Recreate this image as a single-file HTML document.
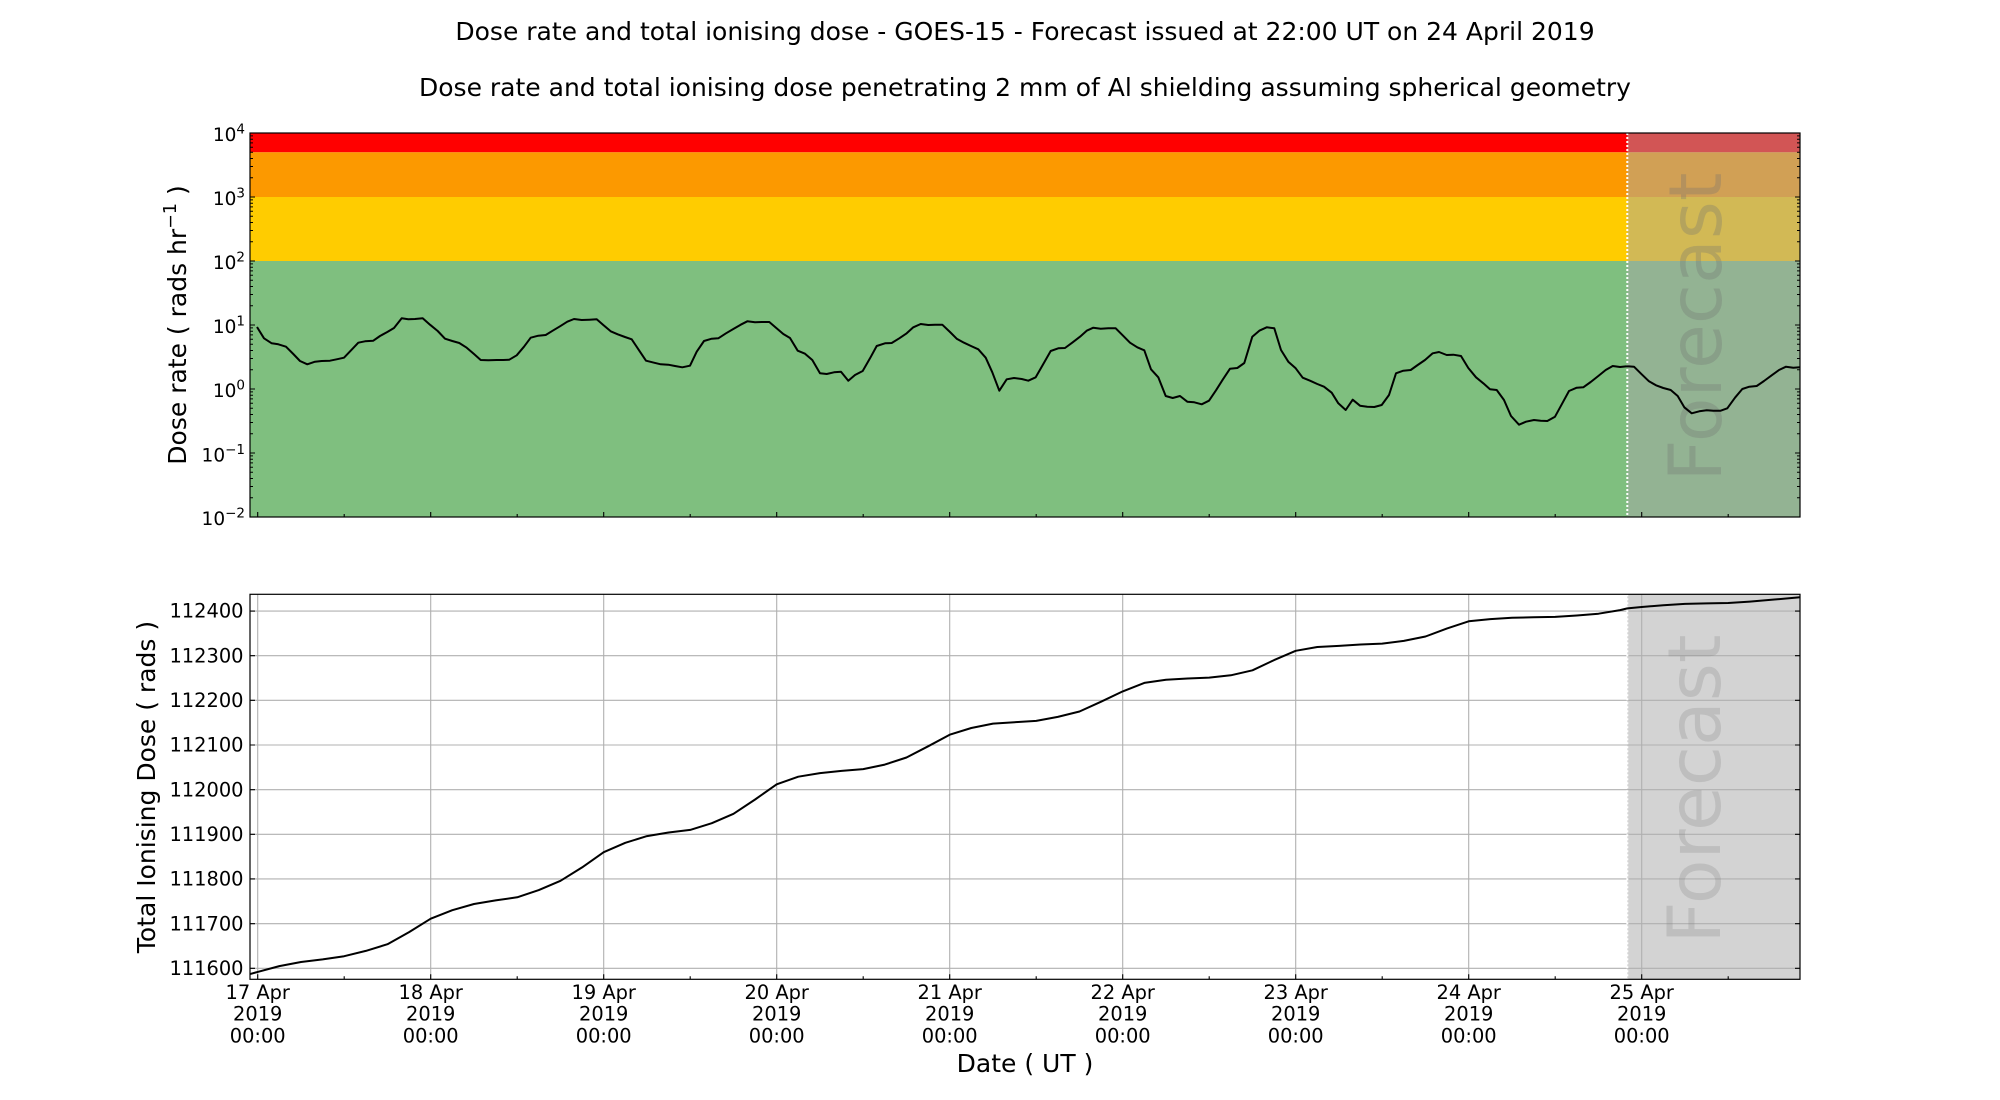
<!DOCTYPE html>
<html>
<head>
<meta charset="utf-8">
<style>
html,body{margin:0;padding:0;background:#fff;}
svg{display:block;}
text{font-family:"DejaVu Sans","Liberation Sans",sans-serif;}
</style>
</head>
<body>
<svg width="2000" height="1100" viewBox="0 0 2000 1100" xmlns="http://www.w3.org/2000/svg">
<defs>
<path id="mt" d="M250 -19.27h3M250 -30.53h3M250 -38.53h3M250 -44.74h3M250 -49.8h3M250 -54.09h3M250 -57.8h3M250 -61.07h3M1800 -19.27h-3M1800 -30.53h-3M1800 -38.53h-3M1800 -44.74h-3M1800 -49.8h-3M1800 -54.09h-3M1800 -57.8h-3M1800 -61.07h-3" stroke="#000" stroke-width="1" fill="none"/>
</defs>
<rect x="0" y="0" width="2000" height="1100" fill="#fff"/>

<!-- Titles -->
<text x="1025" y="40" font-size="25" text-anchor="middle" fill="#000">Dose rate and total ionising dose - GOES-15 - Forecast issued at 22:00 UT on 24 April 2019</text>
<text x="1025" y="96" font-size="25" text-anchor="middle" fill="#000">Dose rate and total ionising dose penetrating 2 mm of Al shielding assuming spherical geometry</text>

<!-- ===== TOP PANEL ===== -->
<rect x="250" y="133" width="1550" height="19.3" fill="#ff0000"/>
<rect x="250" y="152.3" width="1550" height="44.7" fill="#fc9900"/>
<rect x="250" y="197" width="1550" height="64" fill="#ffcc00"/>
<rect x="250" y="261" width="1550" height="256" fill="#7fbf7f"/>
<rect x="1627.3" y="133" width="172.7" height="384" fill="rgb(167,167,167)" fill-opacity="0.51"/>
<text transform="translate(1721,327) rotate(-90)" font-size="73" text-anchor="middle" fill="#6f6f6f" fill-opacity="0.3">Forecast</text>
<line x1="1627.3" y1="133" x2="1627.3" y2="517" stroke="#fff" stroke-width="2" stroke-dasharray="2,2"/>
<polyline fill="none" stroke="#000" stroke-width="2" stroke-linejoin="round" points="257,327 264,338.3 271.7,343.3 278.3,344.3 286,346.7 293.3,354 300,361 307.3,364.3 315,361.7 321.7,361 330,360.7 336.7,359.3 344,357.7 350.7,350.7 358.3,342.7 365,341.3 373.3,340.7 380,336 387.3,332 394,328 401.7,318.3 408.3,319.3 415,319 422.7,318.3 430,324.7 437.7,331 445,338.7 452.3,341 459.3,343 466.7,347.7 474,354 480.7,360 488.3,360.3 496.7,360 503.3,360 509.3,359.7 516.7,355.3 524,346.7 530.7,337.7 538.3,335.7 545.7,335 552.7,330.7 560,326.3 567.3,321.7 574,319 581.7,320 589.3,319.7 596.7,319.3 603.3,325 610.7,331.3 617.7,334.3 625,337 631.7,339.3 639.3,350.7 646,360.7 654,362.7 660.7,364.3 668.3,364.7 675,366 682.3,367.3 690,365.7 696.7,351.7 704,341 711.7,338.7 718.3,338.3 726,333.3 733.3,329 740.7,324.7 747.3,321.3 755,322.3 761.7,322 769.3,322 776,327.7 783.3,334 790,338 797.7,350.7 805,353.7 812.3,360 820,373.3 826.7,374 834,372.3 841,371.7 848.3,380.7 855,375 862.7,371 870,358.3 876.7,346 885,343.3 891.7,343 899.3,338.3 906.7,333.3 913.3,327.3 920.7,324 928.3,325 935,324.7 942.3,324.7 950,332 956.7,338.7 964,342.7 971,346 978.3,349.3 985.7,357.7 992.3,372.3 999.3,390.7 1006.7,379.3 1014,378 1021.7,379 1028.3,380.7 1035.7,377.3 1043.3,364 1050.7,351 1058.3,348.3 1065,348 1072.7,342.3 1080,336.7 1086.7,330.7 1093.3,327.7 1100.7,328.7 1108.3,328.3 1115.7,328.3 1122.7,335.3 1130,342.7 1137.3,347.3 1144.3,350.3 1151,369.3 1158.3,377.3 1165.7,396 1172.7,398 1180,396 1187.3,401.7 1194.3,402.3 1201.7,404.3 1209,400.7 1216,390.3 1222.7,379.7 1230,368.7 1237.3,368 1244.3,363 1252.3,336.7 1259.3,330.7 1266.7,327.3 1274.3,328.3 1281,350 1288.3,361.7 1295.7,368.3 1302.7,377.7 1310,380.7 1317.3,384 1324,386.7 1331.7,392.7 1338.3,403.3 1345.7,410 1352.7,399.7 1360,405.7 1367.3,406.7 1374.3,407 1381.7,405 1389,395 1396,373.3 1403.3,370.7 1410.7,370 1417.7,365 1425,360 1432.7,353.3 1439,352 1446.7,355 1453.3,354.7 1461,356 1468.3,368 1476,377.3 1483.3,383.3 1490,389.3 1496.7,390 1504,400 1511,416 1519,424.7 1526,421.7 1534,420 1540.7,420.7 1547.3,421 1555,416.7 1562.3,403.3 1569,391 1576.7,387.7 1583.3,387.3 1590.7,382 1598.3,376 1605.7,370 1612.7,366 1620,367 1627.3,366.3 1634,366.7 1641.7,374.3 1649,381.3 1656,385.3 1663.3,388 1670.7,390 1677.7,396 1684.3,407.3 1691.7,413.3 1699.3,411.3 1706.7,410.3 1713.3,410.7 1720.7,410.7 1727.3,408.3 1735,397.7 1742.3,389 1749.3,386.7 1756.7,386 1764,381 1771.7,375.3 1779,370 1786,366.7 1793.3,367.7 1800,367.3"/>
<!-- top spines -->
<rect x="250" y="133" width="1550" height="384" fill="none" stroke="#000" stroke-width="1.2"/>
<!-- top y major ticks -->
<path d="M250 133h5M250 197h5M250 261h5M250 325h5M250 389h5M250 453h5M250 517h5M1800 133h-5M1800 197h-5M1800 261h-5M1800 325h-5M1800 389h-5M1800 453h-5M1800 517h-5" stroke="#000" stroke-width="1.1" fill="none"/>
<use href="#mt" transform="translate(0,517)"/>
<use href="#mt" transform="translate(0,453)"/>
<use href="#mt" transform="translate(0,389)"/>
<use href="#mt" transform="translate(0,325)"/>
<use href="#mt" transform="translate(0,261)"/>
<use href="#mt" transform="translate(0,197)"/>
<!-- top x ticks -->
<path d="M257.7 517v-5M430.7 517v-5M603.7 517v-5M776.7 517v-5M949.7 517v-5M1122.7 517v-5M1295.7 517v-5M1468.7 517v-5M1641.7 517v-5M344.2 517v-3M517.2 517v-3M690.2 517v-3M863.2 517v-3M1036.2 517v-3M1209.2 517v-3M1382.2 517v-3M1555.2 517v-3M1728.2 517v-3" stroke="#000" stroke-width="1.1" fill="none"/>
<!-- top y tick labels -->
<g font-size="18.5" text-anchor="end" fill="#000">
<text x="245" y="141">10<tspan font-size="13.5" dy="-7.5">4</tspan></text>
<text x="245" y="205">10<tspan font-size="13.5" dy="-7.5">3</tspan></text>
<text x="245" y="269">10<tspan font-size="13.5" dy="-7.5">2</tspan></text>
<text x="245" y="333">10<tspan font-size="13.5" dy="-7.5">1</tspan></text>
<text x="245" y="397">10<tspan font-size="13.5" dy="-7.5">0</tspan></text>
<text x="245" y="461.5">10<tspan font-size="13.5" dy="-7.5">−1</tspan></text>
<text x="245" y="525">10<tspan font-size="13.5" dy="-7.5">−2</tspan></text>
</g>
<text transform="translate(186,325) rotate(-90)" font-size="25" text-anchor="middle" fill="#000">Dose rate ( rads hr<tspan font-size="17.5" dy="-10">−1</tspan><tspan dy="10"> )</tspan></text>

<!-- ===== BOTTOM PANEL ===== -->
<rect x="1627.3" y="594.3" width="172.7" height="385" fill="#d3d3d3"/>
<path d="M250 968.3H1800M250 923.64H1800M250 878.98H1800M250 834.32H1800M250 789.66H1800M250 745H1800M250 700.34H1800M250 655.68H1800M250 611.02H1800M257.7 594.3V979.3M430.7 594.3V979.3M603.7 594.3V979.3M776.7 594.3V979.3M949.7 594.3V979.3M1122.7 594.3V979.3M1295.7 594.3V979.3M1468.7 594.3V979.3M1641.7 594.3V979.3" stroke="#b0b0b0" stroke-width="1.1" fill="none"/>
<text transform="translate(1720,789) rotate(-90)" font-size="73" text-anchor="middle" fill="#808080" fill-opacity="0.25">Forecast</text>
<line x1="1627.3" y1="594.3" x2="1627.3" y2="979.3" stroke="#fff" stroke-width="2" stroke-dasharray="2,2"/>
<polyline fill="none" stroke="#000" stroke-width="2" stroke-linejoin="round" points="250,974.1 257.7,971.9 279.3,966.1 301,962 322.6,959.4 344.2,956.2 365.8,950.9 387.5,944.2 409.1,932.1 430.7,918.7 452.3,910.2 474,904 495.6,900.4 517.2,897.3 538.8,890.1 560.5,880.8 582.1,867.4 603.7,852.2 625.3,842.8 647,836.1 668.6,832.5 690.2,829.9 711.8,823.2 733.5,813.8 755.1,799.5 776.7,784.3 798.3,776.7 820,773.1 841.6,770.9 863.2,769.1 884.8,764.6 906.5,757.5 928.1,746.3 949.7,734.7 971.3,728 993,723.6 1014.6,722.2 1036.2,720.9 1057.8,716.9 1079.5,711.5 1101.1,701.7 1122.7,691.4 1144.3,682.9 1166,679.8 1187.6,678.5 1209.2,677.6 1230.8,675.3 1252.5,670.3 1274.1,660.1 1295.7,650.8 1317.3,647 1339,645.9 1360.6,644.5 1382.2,643.6 1403.8,640.9 1425.5,636.5 1447.1,628.4 1468.7,621.3 1490.3,619.1 1512,617.7 1533.6,617.3 1555.2,616.9 1576.8,615.5 1598.5,613.7 1620.1,610.1 1627.3,608.4 1641.7,607 1663.3,605.2 1684.9,603.9 1706.6,603.4 1728.2,603 1749.8,601.6 1771.4,599.8 1800,597.2"/>
<rect x="250" y="594.3" width="1550" height="385" fill="none" stroke="#000" stroke-width="1.2"/>
<!-- bottom y ticks -->
<path d="M250 968.3h5M250 923.64h5M250 878.98h5M250 834.32h5M250 789.66h5M250 745h5M250 700.34h5M250 655.68h5M250 611.02h5M1800 968.3h-5M1800 923.64h-5M1800 878.98h-5M1800 834.32h-5M1800 789.66h-5M1800 745h-5M1800 700.34h-5M1800 655.68h-5M1800 611.02h-5" stroke="#000" stroke-width="1.1" fill="none"/>
<!-- bottom x ticks -->
<path d="M257.7 979.3v-5M430.7 979.3v-5M603.7 979.3v-5M776.7 979.3v-5M949.7 979.3v-5M1122.7 979.3v-5M1295.7 979.3v-5M1468.7 979.3v-5M1641.7 979.3v-5M344.2 979.3v-3M517.2 979.3v-3M690.2 979.3v-3M863.2 979.3v-3M1036.2 979.3v-3M1209.2 979.3v-3M1382.2 979.3v-3M1555.2 979.3v-3M1728.2 979.3v-3" stroke="#000" stroke-width="1.1" fill="none"/>
<!-- bottom y tick labels -->
<g font-size="19.4" text-anchor="end" fill="#000">
<text x="243.5" y="975">111600</text>
<text x="243.5" y="930.3">111700</text>
<text x="243.5" y="885.7">111800</text>
<text x="243.5" y="841">111900</text>
<text x="243.5" y="796.4">112000</text>
<text x="243.5" y="751.7">112100</text>
<text x="243.5" y="707">112200</text>
<text x="243.5" y="662.4">112300</text>
<text x="243.5" y="617.7">112400</text>
</g>
<text transform="translate(155,787) rotate(-90)" font-size="25" text-anchor="middle" fill="#000">Total Ionising Dose ( rads )</text>
<!-- x tick labels -->
<g font-size="19.4" text-anchor="middle" fill="#000">
<text x="257.7" y="999">17 Apr</text><text x="257.7" y="1020.7">2019</text><text x="257.7" y="1042.5">00:00</text>
<text x="430.7" y="999">18 Apr</text><text x="430.7" y="1020.7">2019</text><text x="430.7" y="1042.5">00:00</text>
<text x="603.7" y="999">19 Apr</text><text x="603.7" y="1020.7">2019</text><text x="603.7" y="1042.5">00:00</text>
<text x="776.7" y="999">20 Apr</text><text x="776.7" y="1020.7">2019</text><text x="776.7" y="1042.5">00:00</text>
<text x="949.7" y="999">21 Apr</text><text x="949.7" y="1020.7">2019</text><text x="949.7" y="1042.5">00:00</text>
<text x="1122.7" y="999">22 Apr</text><text x="1122.7" y="1020.7">2019</text><text x="1122.7" y="1042.5">00:00</text>
<text x="1295.7" y="999">23 Apr</text><text x="1295.7" y="1020.7">2019</text><text x="1295.7" y="1042.5">00:00</text>
<text x="1468.7" y="999">24 Apr</text><text x="1468.7" y="1020.7">2019</text><text x="1468.7" y="1042.5">00:00</text>
<text x="1641.7" y="999">25 Apr</text><text x="1641.7" y="1020.7">2019</text><text x="1641.7" y="1042.5">00:00</text>
</g>
<text x="1025" y="1072" font-size="25" text-anchor="middle" fill="#000">Date ( UT )</text>
</svg>
</body>
</html>
